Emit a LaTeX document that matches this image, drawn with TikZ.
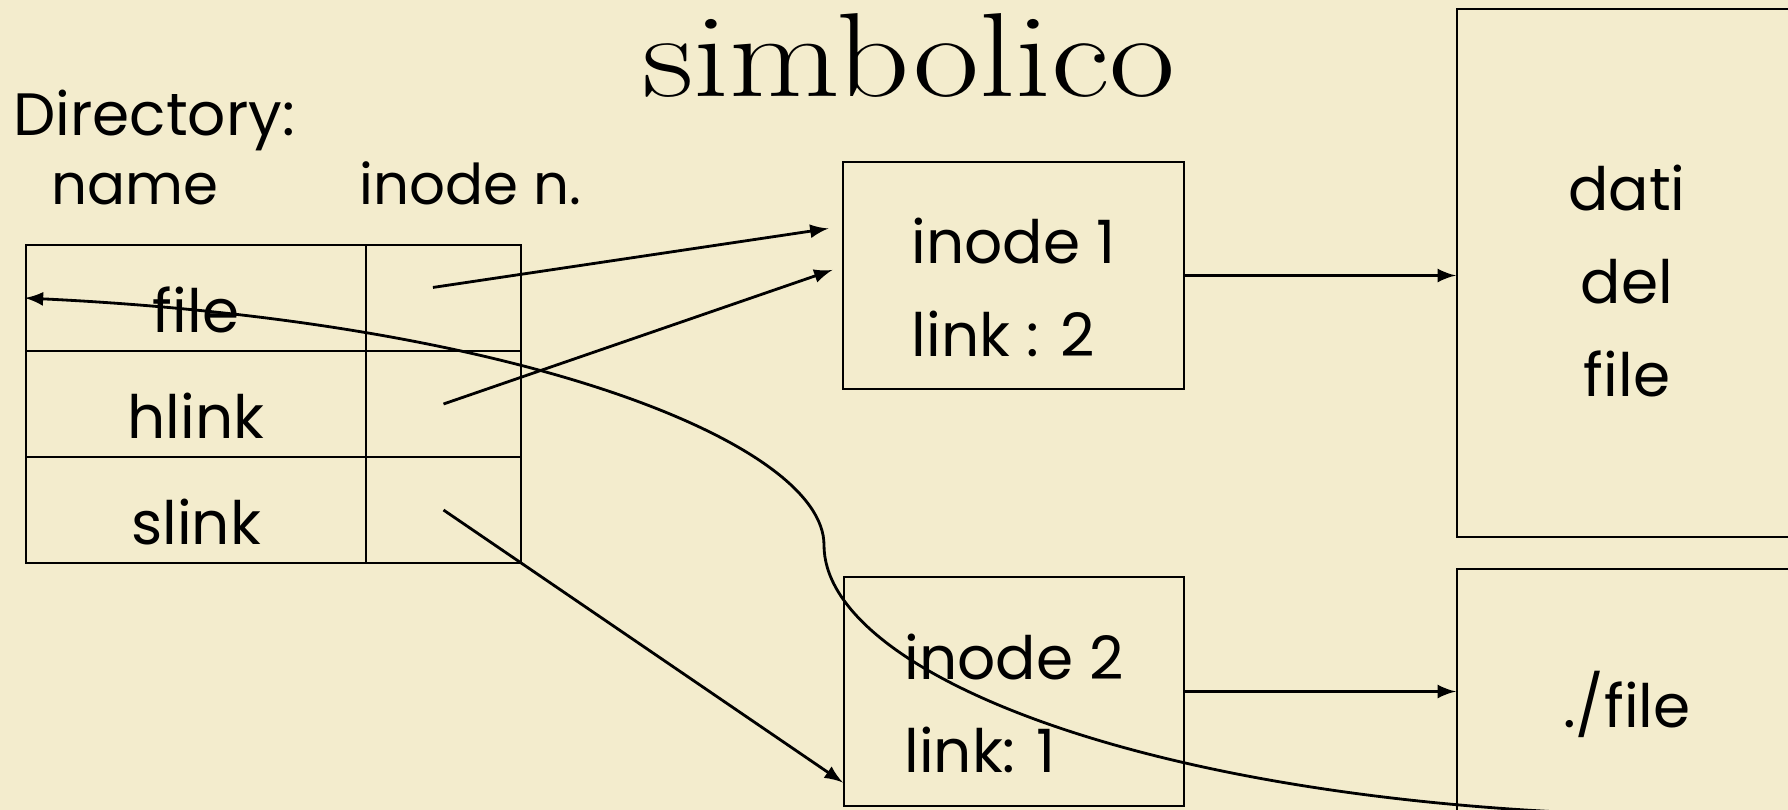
\documentclass[tikz,border=0pt]{standalone}
\usepackage{fontspec}
\newfontfamily\hand{Poppins}
\definecolor{paper}{RGB}{243,236,205}
\def\s{0.01}
\def\punkt#1#2{({#1*\s},{-#2*\s})}
\tikzset{
	box/.style={draw,line width=0.6pt,inner sep=0pt},
	txt/.style={inner sep=0pt,font=\hand\fontsize{17}{26.5}\selectfont},
	cell/.style={box,txt,minimum height=1.06cm,text height=19.4pt,text depth=0pt},
	lbl/.style={anchor=base west,inner sep=0pt,font=\hand\fontsize{16}{20}\selectfont},
}

\begin{document}
\begin{tikzpicture}[>=latex,thick]
\path[fill=paper,use as bounding box] \punkt{0}{0} rectangle \punkt{1788}{810};
% titolo e intestazioni
\node[anchor=base west,inner sep=0pt,font=\fontsize{34}{40}\selectfont] (title) at \punkt{641}{97} {\scalebox{1.2}[1]{simbolico}};
\node[lbl,font=\hand\fontsize{17}{20}\selectfont] (dir) at \punkt{12}{135} {Directory:};
\node[lbl] (hname) at \punkt{50}{204} {name};
\node[lbl] (hino) at \punkt{358}{204} {inode n.};
% tabella
\foreach \t [count=\i] in {file,hlink,slink}{
	\pgfmathsetmacro\y{192+106*\i}
	\node[cell,minimum width=3.4cm] (nc\i) at \punkt{196}{\y} {\t};
	\node[cell,minimum width=1.55cm] (ic\i) at \punkt{443.5}{\y} {};
}
% inode e blocchi dati
\node[box,minimum width=3.4cm,minimum height=2.27cm] (in1) at \punkt{1013.5}{275.5} {};
\node[txt,align=left] (in1t) at \punkt{1013.5}{287.5} {inode 1\\link : 2};
\node[box,minimum width=3.4cm,minimum height=2.29cm] (in2) at \punkt{1014}{691.5} {};
\node[txt,align=left] (in2t) at \punkt{1014}{703.5} {inode 2\\link: 1};
\node[box,minimum width=3.4cm,minimum height=5.28cm] (dati) at \punkt{1627}{273} {};
\node[txt,align=center] (datit) at \punkt{1627}{281} {dati\\del\\file};
\node[box,txt,minimum width=3.4cm,minimum height=2.71cm] (fl) at \punkt{1627}{704.5} {./file};
% collegamenti
\draw[->,shorten >=4pt] ([xshift=-3pt,yshift=3pt]ic1.center) -- (in1.164);
\draw[->,shorten >=3pt] (ic2.center) -- (in1.177);
\draw[->] (ic3.center) -- (in2.208);
\draw[->] (in1.east) -- (in1.east -| dati.west);
\draw[->] (in2.east) -- (in2.east -| fl.west);
% link simbolico
\path \punkt{1560}{812} coordinate (cstart);
\path \punkt{824}{545} coordinate (cmid);
\path \punkt{1110}{789} coordinate (k1);
\path \punkt{824}{665} coordinate (k2);
\path \punkt{824}{445} coordinate (k3);
\path \punkt{526}{322} coordinate (k4);
\draw[->] (cstart) .. controls (k1) and (k2) .. (cmid) .. controls (k3) and (k4) .. (nc1.west);
\end{tikzpicture}
\end{document}
